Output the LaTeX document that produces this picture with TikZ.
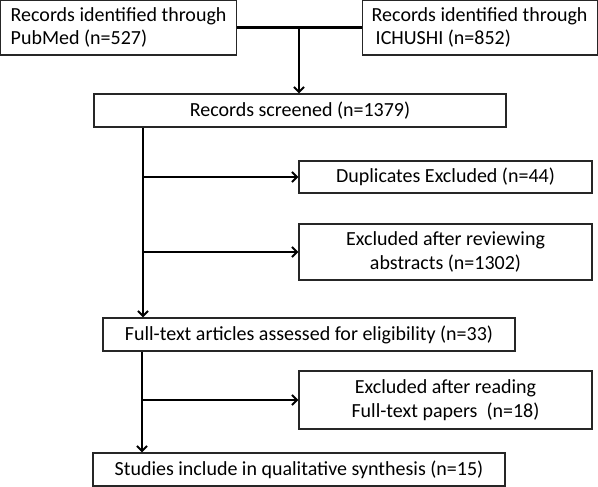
\documentclass[tikz,border=0pt]{standalone}
\usepackage{fontspec}
\setmainfont{Carlito}
\usetikzlibrary{arrows.meta}
\begin{document}
\begin{tikzpicture}[x=1pt,y=1pt,
  box/.style={draw=black!85,line width=1.2pt,rectangle,inner sep=0pt,
    font=\fontsize{20}{23.5}\selectfont},
  conn/.style={line width=2.2pt,black},
  arr/.style={conn,-{Straight Barb[length=5pt,width=10pt,line width=2pt]}}]
\useasboundingbox (0,0) rectangle (598,-487);
\node[box,minimum width=236pt,minimum height=55pt,align=left] (pub) at (118.6,-27.5)
  {Records identified through\\PubMed (n=527)};
\node[box,minimum width=235pt,minimum height=55pt,align=left] (ich) at (479.6,-27.5)
  {Records identified through\\\hspace*{4pt}ICHUSHI (n=852)};
\node[box,minimum width=412pt,minimum height=33pt] (scr) at (300,-110.5)
  {Records screened (n=1379)};
\node[box,minimum width=293pt,minimum height=32pt] (dup) at (445.5,-177)
  {Duplicates Excluded (n=44)};
\node[box,minimum width=293pt,minimum height=56pt,align=center] (rev) at (445.5,-252)
  {Excluded after reviewing\\abstracts (n=1302)};
\node[box,minimum width=412pt,minimum height=33pt] (ft) at (309,-334.5)
  {Full-text articles assessed for eligibility (n=33)};
\node[box,minimum width=293pt,minimum height=58pt,align=center] (rd) at (445.5,-400)
  {Excluded after reading\\Full-text papers\ \ (n=18)};
\node[box,minimum width=412pt,minimum height=33pt] (st) at (299,-469.5)
  {Studies include in qualitative synthesis (n=15)};
\coordinate (j) at (299,-27.5);
\coordinate (t1) at (143,0);
\coordinate (t2) at (142,0);
\draw[conn] (pub.east) -- (ich.west);
\draw[arr] (j) -- (j |- scr.north);
\draw[arr] (scr.south -| t1) -- (ft.north -| t1);
\draw[arr] (t1 |- dup.west) -- (dup.west);
\draw[arr] (t1 |- rev.west) -- (rev.west);
\draw[arr] (ft.south -| t2) -- (st.north -| t2);
\draw[arr] (t2 |- rd.west) -- (rd.west);
\end{tikzpicture}
\end{document}
